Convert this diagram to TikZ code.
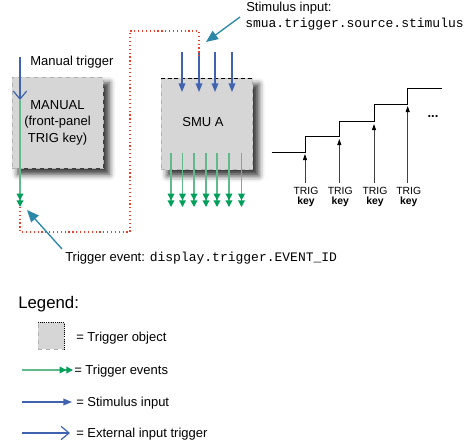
\documentclass[tikz,border=0pt]{standalone}
\usepackage{fontspec}
\setmainfont{Liberation Sans}
\setmonofont{Liberation Mono}
\usepackage{tikz}
\usetikzlibrary{arrows.meta, shadows.blur}

\definecolor{stimblue}{HTML}{3F63B0}
\definecolor{eventgreen}{HTML}{00A05A}
\definecolor{eventline}{HTML}{62B98C}
\definecolor{linkred}{HTML}{E8402A}
\definecolor{noteteal}{HTML}{2C88A8}
\definecolor{objgray}{HTML}{D6D6D6}

\begin{document}
\begin{tikzpicture}[x=0.75pt, y=-0.75pt, font=\fontsize{9.75}{12.4}\selectfont]
        \useasboundingbox (0,0) rectangle (470,443);
        \tikzstyle{TrigObject} = [fill=objgray, draw=gray!60, dashed, inner sep=0pt,
            minimum width=68.5pt, minimum height=68.5pt, align=center,
            blur shadow={shadow xshift=4.5pt, shadow yshift=-4.5pt, shadow blur radius=4.5pt, shadow opacity=80}]
        \tikzstyle{EventStyle} = [draw=eventline, line width=1pt,
            -{Triangle[length=5pt, width=5pt, color=eventgreen]Triangle[length=5pt, width=5pt, color=eventgreen]}]
        \tikzstyle{StimStyle} = [draw=stimblue, line width=1pt, -{Triangle[length=6.5pt, width=5pt]}]
        \tikzstyle{ExtStyle} = [draw=stimblue, line width=0.9pt, -{Straight Barb[length=6pt, width=10pt]}]
        \tikzstyle{LinkStyle} = [draw=linkred, dotted, line width=0.9pt]
        \tikzstyle{NoteStyle} = [draw=noteteal, line width=1pt, -{Triangle[length=9pt, width=7.5pt]}]
        \tikzstyle{TrigStyle} = [draw=black!75, line width=0.6pt, -{Triangle[length=4.5pt, width=3pt, color=black]}]
        \tikzstyle{KeyStyle} = [inner sep=0pt, anchor=base, font=\fontsize{7.8}{8}\selectfont]
        \tikzstyle{TextStyle} = [anchor=base west, inner sep=0pt]

        \node[TrigObject] (manual) at (57.5,122.5) {MANUAL\\(front-panel\\TRIG key)};
        \node[TrigObject] (smu) at (207,124) {\raisebox{3.5pt}{SMU A}\hspace*{6pt}};
        \draw[densely dashed, black, line width=0.6pt] (smu.north west) -- (smu.north east);

        \coordinate (mtop) at (20,57);
        \coordinate (mhit) at (20,100);
        \coordinate (mout) at (20,207);
        \draw[ExtStyle] (mtop) -- (mhit);
        \draw[EventStyle] (mhit) -- (mout);
        \node[TextStyle] (mlabel) at (30,65) {Manual trigger};

        \foreach \x [count=\i] in {182,199,215,232} {
            \coordinate (s\i) at (\x,52);
            \coordinate (t\i) at (\x,92);
            \draw[StimStyle] (s\i) -- (t\i);
        }
        \foreach \x [count=\i] in {171,182.5,194,206,217,229,241.5} {
            \coordinate (o\i) at (\x,153);
            \coordinate (e\i) at (\x,207);
            \draw[EventStyle] (o\i) -- (e\i);
        }

        \draw[LinkStyle] (mout) -- ++(0,25) -| (130,31) -| ([yshift=-4pt]s2);

        \node[TextStyle] (stim) at (246,11) {Stimulus input:};
        \node[TextStyle] (stimcmd) at (245,27) {\ttfamily smua.trigger.source.stimulus};
        \coordinate (stimfrom) at (240,17);
        \coordinate (stimto) at (206,42);
        \draw[NoteStyle] (stimfrom) -- (stimto);

        \node[TextStyle] (event) at (65,261) {Trigger event: \texttt{display.trigger.EVENT\_ID}};
        \coordinate (eventfrom) at (62,249);
        \coordinate (eventto) at (27,210);
        \draw[NoteStyle] (eventfrom) -- (eventto);

        \coordinate (st0) at (271.7,152);
        \coordinate (st1) at (305,136);
        \coordinate (st2) at (339.3,121.7);
        \coordinate (st3) at (374,104.3);
        \coordinate (st4) at (407.7,88.3);
        \coordinate (st5) at (441.7,88.3);
        \draw[black, line width=0.7pt] (st0) -| (st1) -| (st2) -| (st3) -| (st4) -- (st5);
        \foreach \x/\y [count=\i] in {305/154, 339.3/139, 374/124, 407.7/106} {
            \coordinate (kb\i) at (\x,183);
            \coordinate (kt\i) at (\x,\y);
            \draw[TrigStyle] (kb\i) -- (kt\i);
            \node[KeyStyle] (trig\i) at (\x+1,194.5) {TRIG};
            \node[KeyStyle] (key\i) at (\x+1,204.5) {\bfseries key};
        }
        \node (more) at (433,117) {\bfseries ...};

        \node[TextStyle, font=\fontsize{12.6}{14}\selectfont] (legend) at (18,308) {Legend:};
        \node[fill=objgray, draw=gray!60, dashed, inner sep=0pt, minimum width=19.5pt, minimum height=20pt] (legbox) at (51,336) {};
        \draw[densely dotted, black, line width=0.6pt] (legbox.north west) -- (legbox.north east) -- (legbox.south east);
        \node[TextStyle] (legobj) at (76,341) {= Trigger object};
        \coordinate (lg1) at (22,370);
        \coordinate (lg2) at (73,370);
        \draw[EventStyle] (lg1) -- (lg2);
        \node[TextStyle] (legevt) at (74,374) {= Trigger events};
        \coordinate (lb1) at (22,402);
        \coordinate (lb2) at (72,402);
        \draw[StimStyle] (lb1) -- (lb2);
        \node[TextStyle] (legstim) at (76,406) {= Stimulus input};
        \coordinate (le1) at (22,433);
        \coordinate (le2) at (70,433);
        \draw[ExtStyle] (le1) -- (le2);
        \node[TextStyle] (legext) at (76,437) {= External input trigger};
    \end{tikzpicture}
\end{document}
